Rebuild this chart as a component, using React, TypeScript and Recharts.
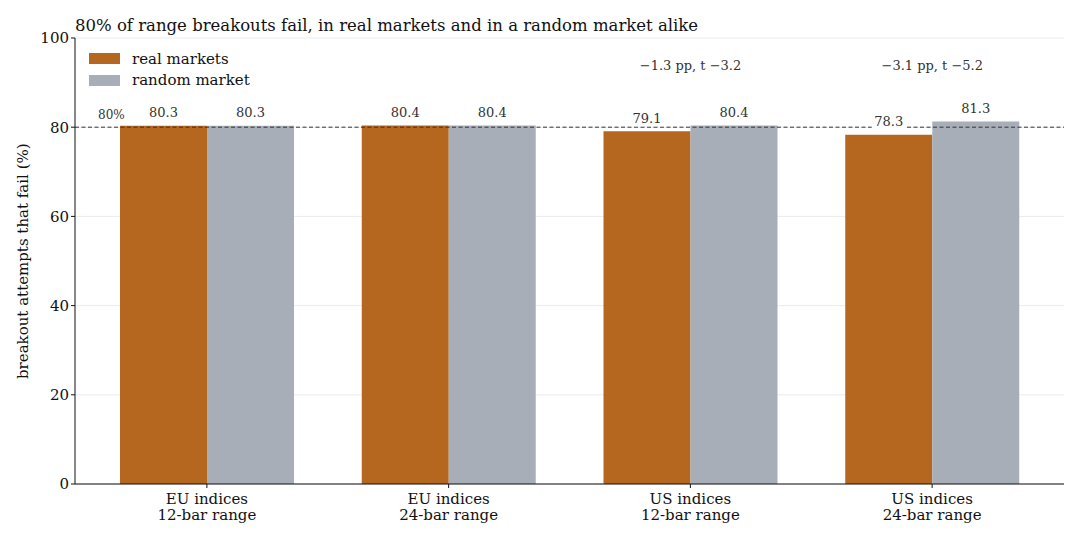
import React from "react";
import {
  BarChart,
  Bar,
  XAxis,
  YAxis,
  CartesianGrid,
  ReferenceLine,
  LabelList,
} from "recharts";

const groupTop = ["EU indices", "EU indices", "US indices", "US indices"];
const groupBottom = ["12-bar range", "24-bar range", "12-bar range", "24-bar range"];
const realMarkets = [80.3, 80.4, 79.1, 78.3];
const randomMarket = [80.3, 80.4, 80.4, 81.3];
const notes = ["", "", "\u22121.3 pp, t \u22123.2", "\u22123.1 pp, t \u22125.2"];
const yTicks = [0, 20, 40, 60, 80, 100];
const legendItems = ["real markets", "random market"];

const ORANGE = "#b5671f";
const GREY = "#a8aeb7";
const FONT = "'DejaVu Serif', serif";

const data = groupTop.map((g, i) => ({
  name: `${g}\n${groupBottom[i]}`,
  real: realMarkets[i],
  random: randomMarket[i],
  note: notes[i],
}));

function ValueLabel(props: any) {
  const { x, y, width, value } = props;
  const cx = x + width / 2;
  const cy = y - 13;
  const txt = Number(value).toFixed(1);
  return (
    <g>
      <rect x={cx - 17} y={cy - 8} width={34} height={16} fill="#fff" />
      <text
        x={cx}
        y={cy}
        textAnchor="middle"
        dominantBaseline="central"
        fontFamily={FONT}
        fontSize={13}
        fill="#333"
      >
        {txt}
      </text>
    </g>
  );
}

function NoteLabel(props: any) {
  const { x, width, value } = props;
  if (!value) return null;
  return (
    <text
      x={x + width}
      y={65}
      textAnchor="middle"
      dominantBaseline="central"
      fontFamily={FONT}
      fontSize={13}
      fill="#333"
    >
      {value}
    </text>
  );
}

function GroupTick(props: any) {
  const { x, y, payload } = props;
  const [a, b] = String(payload.value).split("\n");
  return (
    <g>
      <text x={x} y={y + 14} textAnchor="middle" fontFamily={FONT} fontSize={15} fill="#111">
        {a}
      </text>
      <text x={x} y={y + 30} textAnchor="middle" fontFamily={FONT} fontSize={15} fill="#111">
        {b}
      </text>
    </g>
  );
}

export default function App() {
  const colors = [ORANGE, GREY];
  return (
    <div style={{ position: "fixed", left: 0, top: 0, width: 1080, height: 540, background: "#fff" }}>
      <BarChart
        width={1080}
        height={540}
        data={data}
        margin={{ top: 38, right: 16, bottom: 26, left: 10 }}
        barGap={0}
        barSize={87}
      >
        <CartesianGrid vertical={false} stroke="#e6e6e6" strokeWidth={0.8} />
        <XAxis
          dataKey="name"
          interval={0}
          height={30}
          padding={{ left: 11, right: 11 }}
          tick={<GroupTick />}
          tickSize={4}
          stroke="#111"
          axisLine={{ stroke: "#111" }}
          tickLine={{ stroke: "#111" }}
        />
        <YAxis
          domain={[0, 100]}
          ticks={yTicks}
          width={65}
          tickSize={4}
          stroke="#111"
          tick={{ fontFamily: FONT, fontSize: 15, fill: "#111" }}
          label={{
            value: "breakout attempts that fail (%)",
            angle: -90,
            position: "insideLeft",
            dx: 8,
            dy: 118,
            style: { fontFamily: FONT, fontSize: 15, fill: "#111" },
          }}
        />
        <ReferenceLine y={80} stroke="#333" strokeDasharray="4 2.5" strokeWidth={1} />
        <Bar dataKey="real" fill={ORANGE} isAnimationActive={false}>
          <LabelList dataKey="real" content={<ValueLabel />} />
          <LabelList dataKey="note" content={<NoteLabel />} />
        </Bar>
        <Bar dataKey="random" fill={GREY} isAnimationActive={false}>
          <LabelList dataKey="random" content={<ValueLabel />} />
        </Bar>
      </BarChart>
      <div
        style={{
          position: "absolute",
          left: 75,
          top: 16,
          fontFamily: FONT,
          fontSize: 16.5,
          color: "#111",
          whiteSpace: "nowrap",
        }}
      >
        80% of range breakouts fail, in real markets and in a random market alike
      </div>
      <div
        style={{
          position: "absolute",
          left: 98,
          top: 108,
          fontFamily: FONT,
          fontSize: 12,
          color: "#333",
        }}
      >
        80%
      </div>
      <div style={{ position: "absolute", left: 89, top: 48, fontFamily: FONT, fontSize: 15, color: "#111" }}>
        {legendItems.map((label, i) => (
          <div key={label} style={{ display: "flex", alignItems: "center", height: 21.5 }}>
            <span
              style={{ display: "inline-block", width: 31, height: 11, background: colors[i], marginRight: 12 }}
            />
            {label}
          </div>
        ))}
      </div>
    </div>
  );
}
